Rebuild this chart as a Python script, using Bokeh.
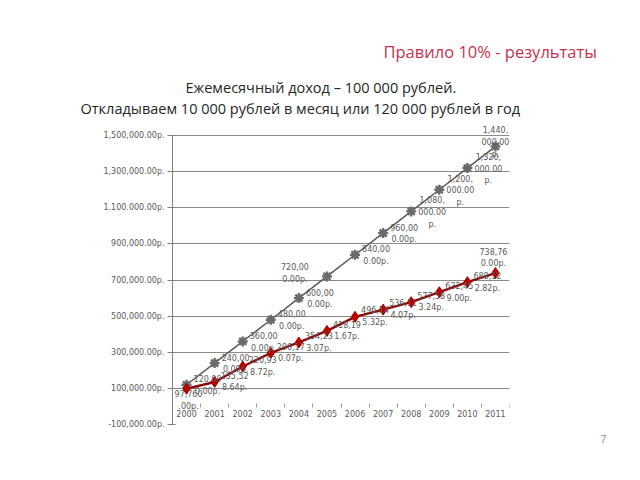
from bokeh.plotting import figure
from bokeh.models import (Range1d, LinearAxis, FixedTicker, Grid, Title, ColumnDataSource)
from bokeh.embed import file_html
from bokeh.resources import INLINE
from bokeh.core.properties import value

# ---------------- data ----------------
years = ["2000", "2001", "2002", "2003", "2004", "2005",
         "2006", "2007", "2008", "2009", "2010", "2011"]
saved_total = [120000, 240000, 360000, 480000, 600000, 720000,
               840000, 960000, 1080000, 1200000, 1320000, 1440000]
real_value = [97760.00, 135528.64, 220938.72, 296170.07, 354233.07, 418191.67,
              496145.32, 536114.07, 577583.24, 632459.00, 688122.82, 738760.00]
y_ticks = [-100000, 100000, 300000, 500000, 700000, 900000, 1100000, 1300000, 1500000]
y_tick_labels = ["-100,000.00р.", "100,000.00р.", "300,000.00р.", "500,000.00р.",
                 "700,000.00р.", "900,000.00р.", "1.100.000.00р.", "1,300,000.00р.",
                 "1,500,000.00р."]

title_text = "Правило 10% - результаты"
subtitle_1 = "Ежемесячный доход – 100 000 рублей."
subtitle_2 = "Откладываем 10 000 рублей в месяц или 120 000 рублей в год"
page_no = "7"


def wrap_label(v):
    s = f"{v:,.2f}р."
    return "\n".join(s[i:i + 6] for i in range(0, len(s), 6))


# category slots: centre of slot i is i + 0.5
xpos = [i + 0.5 for i in range(len(years))]

# label offsets (style)
gray_dx = [21] * len(years)
gray_dy = [1] * len(years)
gray_dx[5], gray_dy[5] = -32, -3
gray_dx[11], gray_dy[11] = 0, -4
red_dx = [20] * len(years)
red_dy = [0] * len(years)
red_dx[0], red_dy[0] = 2, 12
red_dx[11], red_dy[11] = -2, -15

src = ColumnDataSource(dict(
    x=xpos, saved=saved_total, real=real_value,
    saved_lbl=[wrap_label(v) for v in saved_total],
    real_lbl=[wrap_label(v) for v in real_value],
    gdx=gray_dx, gdy=gray_dy, rdx=red_dx, rdy=red_dy,
))

FONT = "DejaVu Sans"
FRAME_LEFT, FRAME_RIGHT = 172, 509
Y_TOP = 1600000  # headroom above the top tick for the last label

p = figure(width=640, height=480, output_backend="svg", toolbar_location=None,
           x_range=Range1d(0, len(years)), y_range=Range1d(y_ticks[0], Y_TOP),
           x_axis_location=None, y_axis_location=None,
           min_border_left=FRAME_LEFT, min_border_right=640 - FRAME_RIGHT,
           min_border_top=117, min_border_bottom=56)
p.outline_line_color = None
p.background_fill_color = "white"
p.border_fill_color = "white"
for g in list(p.grid):
    g.visible = False

# y axis
label_map = {float(t): l for t, l in zip(y_ticks, y_tick_labels)}
yax = LinearAxis(ticker=FixedTicker(ticks=y_ticks), major_label_overrides=label_map,
                 bounds=(y_ticks[0], y_ticks[-1]),
                 major_tick_out=5, major_tick_in=3, minor_tick_line_color=None,
                 axis_line_color="#7f7f7f", major_tick_line_color="#7f7f7f",
                 major_label_text_font=FONT, major_label_text_font_size="8px",
                 major_label_text_color="#595959", major_label_standoff=3)
p.add_layout(yax, "left")

p.add_layout(Grid(dimension=1, ticker=FixedTicker(ticks=y_ticks[1:]),
                  grid_line_color="#8a8a8a", grid_line_width=1))

# x axis (year labels) at zero
xlabel_map = {float(x): y for x, y in zip(xpos, years)}
xax = LinearAxis(fixed_location=0, ticker=FixedTicker(ticks=xpos),
                 major_label_overrides=xlabel_map, axis_line_color=None,
                 major_tick_line_color=None, major_tick_out=0, major_tick_in=0,
                 minor_tick_line_color=None,
                 major_label_text_font=FONT, major_label_text_font_size="8px",
                 major_label_text_color="#595959", major_label_standoff=4)
p.add_layout(xax, "below")

# slot boundary tick marks
bax = LinearAxis(fixed_location=0,
                 ticker=FixedTicker(ticks=list(range(len(years) + 1))),
                 axis_line_color=None, major_tick_line_color="#9a9a9a",
                 major_tick_in=3, major_tick_out=1, minor_tick_line_color=None,
                 major_label_text_color=None, major_label_text_font_size="1px",
                 major_label_standoff=0)
p.add_layout(bax, "below")

# series
p.line("x", "saved", source=src, line_color="#595959", line_width=1.5)
p.scatter("x", "saved", source=src, marker="asterisk", size=10,
          line_color="#6a6a6a", line_width=2.4)
p.line("x", "real", source=src, line_color="#8b0a0a", line_width=2.4)
p.scatter("x", "real", source=src, marker="diamond", size=11,
          fill_color="#c00000", line_color="#a00000")

# data labels
p.text("x", "saved", text="saved_lbl", source=src, x_offset="gdx", y_offset="gdy",
       text_align="center", text_baseline="middle", text_font=value(FONT),
       text_font_size="8px", text_color="#5a5a5a", text_line_height=1.3)
p.text("x", "real", text="real_lbl", source=src, x_offset="rdx", y_offset="rdy",
       text_align="center", text_baseline="middle", text_font=value(FONT),
       text_font_size="8px", text_color="#5a5a5a", text_line_height=1.3)

# titles above (first added sits closest to the plot); left-aligned with offsets
p.add_layout(Title(text=subtitle_2, align="left", offset=80 - FRAME_LEFT, standoff=0,
                   text_font="Open Sans", text_font_size="14.5px",
                   text_font_style="normal", text_color="#262626"), "above")
p.add_layout(Title(text=subtitle_1, align="left", offset=185 - FRAME_LEFT, standoff=0,
                   text_font="Open Sans", text_font_size="14.5px",
                   text_font_style="normal", text_color="#262626"), "above")
p.add_layout(Title(text=title_text, align="left", offset=383 - FRAME_LEFT, standoff=25,
                   text_font="Open Sans", text_font_size="16.5px",
                   text_font_style="normal", text_color="#c8324c"), "above")

# slide number, bottom right
p.add_layout(Title(text=page_no, align="left", offset=600 - FRAME_LEFT, standoff=17,
                   text_font="Open Sans", text_font_size="10px",
                   text_font_style="normal", text_color="#8a8a8a"), "below")

open("out.html", "w").write(file_html(p, INLINE))
